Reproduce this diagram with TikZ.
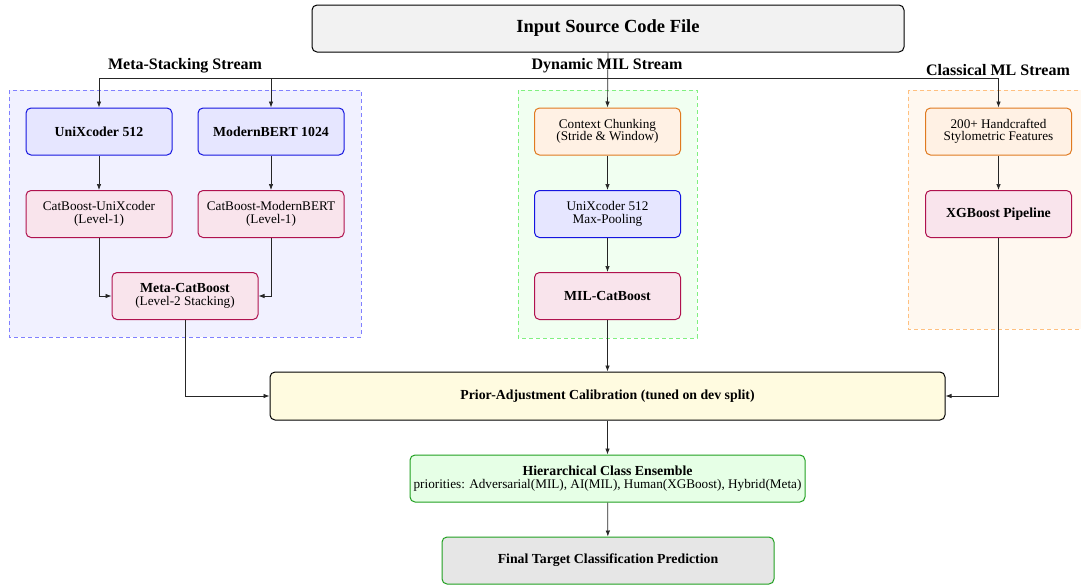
\documentclass[tikz,border=0pt]{standalone}
\usepackage{fontspec}
\setmainfont{Liberation Serif}
\usetikzlibrary{arrows.meta}
\definecolor{bluefill}{HTML}{E6E6FF}
\definecolor{blueline}{HTML}{1515E0}
\definecolor{redfill}{HTML}{F9E4EC}
\definecolor{redline}{HTML}{B0124E}
\definecolor{orfill}{HTML}{FFF1E4}
\definecolor{orline}{HTML}{E07A20}
\definecolor{grfill}{HTML}{E6FFE6}
\definecolor{grline}{HTML}{20A020}
\definecolor{yelfill}{HTML}{FFFBE0}
\definecolor{inputfill}{HTML}{F2F2F2}
\definecolor{finalfill}{HTML}{E6E6E6}
\definecolor{gA}{HTML}{F1F1FF}
\definecolor{gAl}{HTML}{8080FF}
\definecolor{gB}{HTML}{F1FFF1}
\definecolor{gBl}{HTML}{80F080}
\definecolor{gC}{HTML}{FFF8F0}
\definecolor{gCl}{HTML}{FFC080}
\newcommand{\bodysize}{\fontsize{13.2}{12.4}\selectfont}
\newcommand{\boldsize}{\fontsize{13.8}{12.4}\selectfont}
\tikzset{
  box/.style={draw, rounded corners=5pt, line width=1pt, align=center,
    minimum width=146pt, minimum height=47pt, inner sep=1pt, font=\bodysize},
  bbox/.style={box, font=\bfseries\boldsize},
  bluebox/.style={fill=bluefill, draw=blueline},
  redbox/.style={fill=redfill, draw=redline},
  orbox/.style={fill=orfill, draw=orline},
  grp/.style={dashed, line width=0.8pt, dash pattern=on 4pt off 3pt},
  arr/.style={-{Latex[length=6pt,width=4.5pt]}, line width=0.7pt, draw=black!85},
  head/.style={font=\bfseries\fontsize{16}{16}\selectfont}
}
\begin{document}
\begin{tikzpicture}[x=1pt,y=-1pt]
\useasboundingbox (0,0) rectangle (1081,584);
% groups
\fill[gA] (9,90) rectangle (361,337);
\draw[grp, draw=gAl] (9,90) rectangle (361,337);
\fill[gB] (518,90) rectangle (697,338);
\draw[grp, draw=gBl] (518,90) rectangle (697,338);
\fill[gC] (908,90) rectangle (1090,329);
\draw[grp, draw=gCl] (908,90) rectangle (1090,329);
% nodes
\node[box, fill=inputfill, minimum width=592pt, minimum height=47pt, font=\bfseries\fontsize{18.5}{18.5}\selectfont] (input) at (608,28.5) {Input Source Code File};
\node[bbox, bluebox] (uni) at (99,131.5) {UniXcoder 512};
\node[bbox, bluebox] (mod) at (271,131.5) {ModernBERT 1024};
\node[box, redbox] (cbu) at (99,214) {CatBoost-UniXcoder\\(Level-1)};
\node[box, redbox] (cbm) at (271,214) {CatBoost-ModernBERT\\(Level-1)};
\node[box, redbox] (meta) at (185,296) {{\bfseries\boldsize Meta-CatBoost}\\(Level-2 Stacking)};
\node[box, orbox] (ctx) at (607.5,131.5) {Context Chunking\\(Stride \& Window)};
\node[box, bluebox] (uxm) at (607.5,214) {UniXcoder 512\\Max-Pooling};
\node[bbox, redbox] (mil) at (607.5,296) {MIL-CatBoost};
\node[box, orbox] (hand) at (998.5,131.5) {200+ Handcrafted\\Stylometric Features};
\node[bbox, redbox] (xgb) at (998.5,214) {XGBoost Pipeline};
\node[bbox, fill=yelfill, minimum width=675pt, minimum height=48pt] (prior) at (607.5,396) {Prior-Adjustment Calibration (tuned on dev split)};
\node[box, fill=grfill, draw=grline, minimum width=395pt] (hier) at (607.5,478.5) {{\bfseries\boldsize Hierarchical Class Ensemble}\\priorities: Adversarial(MIL), AI(MIL), Human(XGBoost), Hybrid(Meta)};
\node[bbox, fill=finalfill, draw=grline, minimum width=332pt] (final) at (608,560.5) {Final Target Classification Prediction};
% stream labels
\node[head] (lA) at (185,66) {Meta-Stacking Stream};
\node[head] (lB) at (607,66) {Dynamic MIL Stream};
\node[head] (lC) at (998,70) {Classical ML Stream};
% connectors
\coordinate (bus) at (607.5,78);
\draw[arr] (input.south) -- (ctx.north);
\draw[arr] (bus) -| (uni.north);
\draw[arr] (bus) -| (mod.north);
\draw[arr] (bus) -| (hand.north);
\draw[arr] (uni) -- (cbu);
\draw[arr] (mod) -- (cbm);
\draw[arr] (cbu.south) |- (meta.west);
\draw[arr] (cbm.south) |- (meta.east);
\draw[arr] (ctx) -- (uxm);
\draw[arr] (uxm) -- (mil);
\draw[arr] (hand) -- (xgb);
\draw[arr] (meta.south) |- (prior.west);
\draw[arr] (mil.south) -- (prior.north);
\draw[arr] (xgb.south) |- (prior.east);
\draw[arr] (prior) -- (hier);
\draw[arr] (hier) -- (final);
\end{tikzpicture}
\end{document}
